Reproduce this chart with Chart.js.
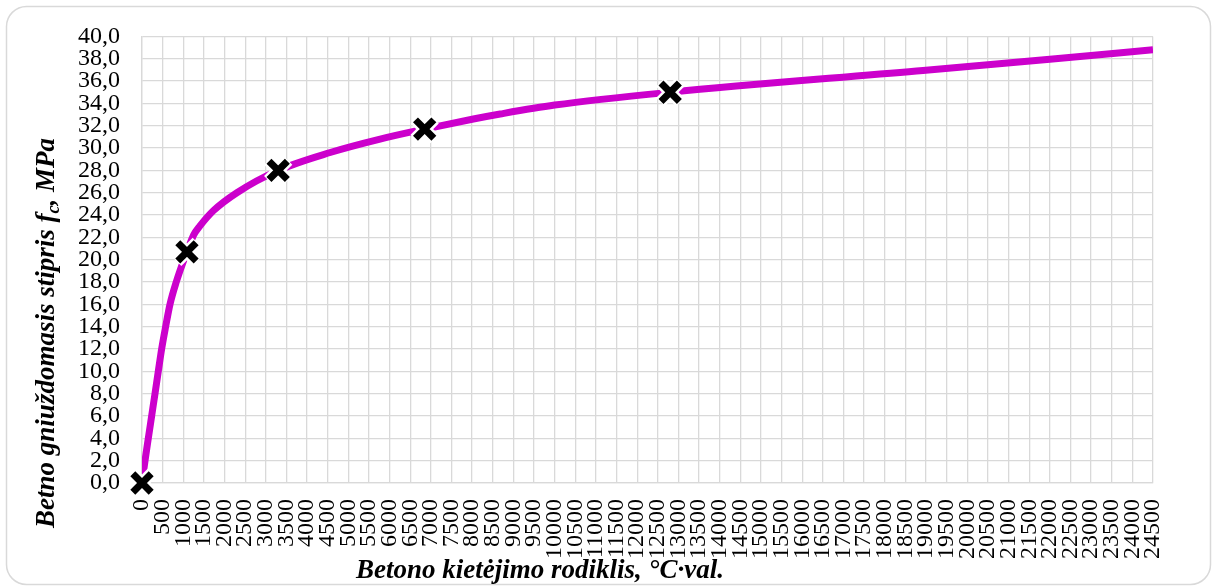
<!DOCTYPE html>
<html>
<head>
<meta charset="utf-8">
<script src="https://cdn.jsdelivr.net/npm/chart.js@4/dist/chart.umd.min.js"></script>
<style>
  html, body { margin: 0; padding: 0; background: #fff; }
  #wrap { position: relative; width: 1213px; height: 587px; }
</style>
</head>
<body>
<div id="wrap"><canvas id="myChart"></canvas></div>
<script>
// kreive (nuskaityta is paveikslelio)
const curveX = [0, 73, 153, 234, 315, 395, 476, 573, 678, 830, 1016, 1090, 1250, 1400, 1734, 2300, 3300, 4560, 5770, 6850, 8030, 8680, 10000, 12800, 18770, 22000, 24500];
const curveY = [0, 2, 4, 6, 8, 10, 12, 14, 16, 18, 20, 20.7, 22.2, 23.0, 24.4, 26.0, 28.0, 29.6, 30.8, 31.7, 32.6, 33.05, 33.85, 35.0, 36.9, 37.95, 38.8];

// bandymu taskai
const markX = [0, 1090, 3300, 6850, 12800];
const markY = [0, 20.7, 28.0, 31.7, 35.0];

const xTitle = 'Betono kietėjimo rodiklis, °C·val.';
const yTitleA = 'Betno gniuždomasis stipris f';
const yTitleSub = 'c';
const yTitleB = ', MPa';

const curveData = curveX.map((x, i) => ({ x: x, y: curveY[i] }));
const markData = markX.map((x, i) => ({ x: x, y: markY[i] }));

const serif = '"Liberation Serif", "Times New Roman", serif';

const titlesPlugin = {
    id: 'titles',
    beforeDraw(chart) {
        const ctx = chart.ctx;
        ctx.save();
        ctx.strokeStyle = '#d9d9d9';
        ctx.lineWidth = 1.5;
        ctx.beginPath();
        ctx.roundRect(6.5, 6.5, 1204, 578, 20);
        ctx.stroke();
        ctx.restore();
    },
    afterDraw(chart) {
        const ctx = chart.ctx;
        ctx.save();
        ctx.fillStyle = '#000';
        ctx.font = 'bold italic 27px ' + serif;
        ctx.textAlign = 'center';
        ctx.textBaseline = 'alphabetic';
        ctx.fillText(xTitle, 540, 578);

        // y pavadinimas su indeksu
        const fontMain = 'bold italic 27px ' + serif;
        const fontSub = 'bold italic 18px ' + serif;
        ctx.font = fontMain;
        const wA = ctx.measureText(yTitleA).width;
        const wB = ctx.measureText(yTitleB).width;
        ctx.font = fontSub;
        const wS = ctx.measureText(yTitleSub).width;
        const total = wA + wS + wB;
        ctx.textBaseline = 'middle';
        ctx.translate(47, 333);
        ctx.rotate(-Math.PI / 2);
        ctx.textAlign = 'left';
        let x0 = -total / 2;
        ctx.font = fontMain;
        ctx.fillText(yTitleA, x0, 0);
        x0 += wA;
        ctx.font = fontSub;
        ctx.fillText(yTitleSub, x0, 7);
        x0 += wS;
        ctx.font = fontMain;
        ctx.fillText(yTitleB, x0, 0);
        ctx.restore();
    }
};

const ctx = document.getElementById('myChart').getContext('2d');
new Chart(ctx, {
    type: 'scatter',
    data: {
        datasets: [
            {
                label: 'kreive',
                data: curveData,
                showLine: true,
                borderColor: '#CC00CC',
                borderWidth: 7,
                pointRadius: 0,
                cubicInterpolationMode: 'monotone',
                order: 3
            },
            {
                label: 'fonas',
                data: markData,
                pointStyle: 'crossRot',
                pointRadius: 14,
                pointBorderWidth: 12,
                pointBorderColor: '#fff',
                pointBackgroundColor: '#fff',
                clip: false,
                order: 2
            },
            {
                label: 'taskai',
                data: markData,
                pointStyle: 'crossRot',
                pointRadius: 13,
                pointBorderWidth: 7,
                pointBorderColor: '#000',
                pointBackgroundColor: '#000',
                clip: false,
                order: 1
            }
        ]
    },
    options: {
        responsive: true,
        maintainAspectRatio: false,
        animation: false,
        layout: {
            padding: { left: 0, right: 60, top: 33, bottom: 0 }
        },
        plugins: {
            legend: { display: false },
            tooltip: { enabled: false }
        },
        scales: {
            x: {
                type: 'linear',
                min: 0,
                max: 24500,
                afterFit: function (scale) { scale.height = 104; },
                grid: { color: '#d9d9d9', lineWidth: 1.3, drawTicks: false },
                border: { color: '#d9d9d9', width: 1.3 },
                ticks: {
                    stepSize: 500,
                    autoSkip: false,
                    minRotation: 90,
                    maxRotation: 90,
                    padding: 16,
                    color: '#000',
                    font: { family: serif, size: 24 },
                    callback: function (v) { return String(v); }
                }
            },
            y: {
                min: 0,
                max: 40,
                afterFit: function (scale) { scale.width = 142; },
                grid: { color: '#d9d9d9', lineWidth: 1.3, drawTicks: false },
                border: { color: '#d9d9d9', width: 1.3 },
                ticks: {
                    stepSize: 2,
                    autoSkip: false,
                    padding: 22,
                    color: '#000',
                    font: { family: serif, size: 24 },
                    callback: function (v) { return v.toFixed(1).replace('.', ','); }
                }
            }
        }
    },
    plugins: [titlesPlugin]
});
</script>
</body>
</html>
